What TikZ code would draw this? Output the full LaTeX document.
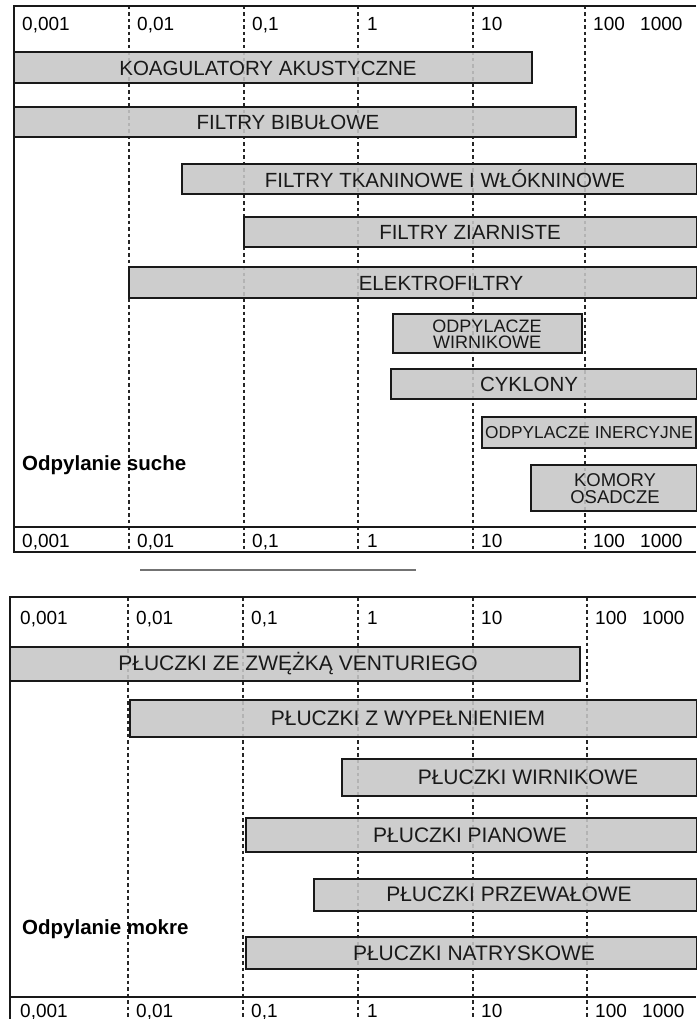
\documentclass[tikz,border=0pt]{standalone}
\usepackage{fontspec}
\setmainfont{Liberation Sans}
\begin{document}
\begin{tikzpicture}[x=1pt,y=-1pt,
  frame/.style={line width=1.5pt, draw=black!90},
  gridline/.style={dash pattern=on 3.5pt off 3pt, line width=1.2pt, draw=black!85},
  bar/.style={draw=black!90, line width=2.1pt, fill=black!22, fill opacity=0.88},
  axislbl/.style={font=\fontsize{19}{22}\selectfont, anchor=base west, inner sep=0pt},
  bartxt/.style={font=\fontsize{20.5}{22}\selectfont, inner sep=0pt, text=black!90},
  bartxtw/.style={font=\fontsize{21}{22}\selectfont, inner sep=0pt, text=black!90},
  smalltxt/.style={font=\fontsize{18}{16}\selectfont, inner sep=0pt, align=center, text=black!90},
  title/.style={font=\fontsize{20.5}{22}\selectfont\bfseries, anchor=base west, inner sep=0pt}
]
\useasboundingbox (0,0) rectangle (696,1019);
\fill[white] (0,0) rectangle (696,1019);

% ================= TOP PANEL =================
\foreach \x in {129,244,358,473,585} \draw[gridline] (\x,6) -- (\x,552);
\draw[frame] (696,6) -- (14,6) -- (14,552) -- (696,552);
\draw[frame] (14,527) -- (696,527);

\node[axislbl] (ta1) at (22,31) {0,001};
\node[axislbl] (ta2) at (137,31) {0,01};
\node[axislbl] (ta3) at (252,31) {0,1};
\node[axislbl] (ta4) at (367,31) {1};
\node[axislbl] (ta5) at (481,31) {10};
\node[axislbl] (ta6) at (593,31) {100};
\node[axislbl] (ta7) at (640,31) {1000};

\node[axislbl] (tb1) at (22,547) {0,001};
\node[axislbl] (tb2) at (137,547) {0,01};
\node[axislbl] (tb3) at (252,547) {0,1};
\node[axislbl] (tb4) at (367,547) {1};
\node[axislbl] (tb5) at (481,547) {10};
\node[axislbl] (tb6) at (593,547) {100};
\node[axislbl] (tb7) at (640,547) {1000};

\draw[bar] (14,52) rectangle (532,83);
\node[bartxt] (s1) at (268,68) {KOAGULATORY AKUSTYCZNE};
\draw[bar] (14,107) rectangle (576,137);
\node[bartxt] (s2) at (288,122) {FILTRY BIBUŁOWE};
\draw[bar] (182,164) rectangle (697,194);
\node[bartxt] (s3) at (445,179) {FILTRY TKANINOWE I WŁÓKNINOWE};
\draw[bar] (244,217) rectangle (697,247);
\node[bartxt] (s4) at (470,232) {FILTRY ZIARNISTE};
\draw[bar] (129,267) rectangle (697,298);
\node[bartxt] (s5) at (441,283) {ELEKTROFILTRY};
\draw[bar] (393,314) rectangle (582,353);
\node[smalltxt] (s6) at (487,334) {ODPYLACZE\\WIRNIKOWE};
\draw[bar] (391,369) rectangle (697,399);
\node[bartxt] (s7) at (529,384) {CYKLONY};
\draw[bar] (482,417) rectangle (696,448);
\node[bartxt, font=\fontsize{17.3}{18}\selectfont] (s8) at (589,433) {ODPYLACZE INERCYJNE};
\draw[bar] (531,465) rectangle (697,511);
\node[smalltxt, font=\fontsize{18.5}{17}\selectfont] (s9) at (615,489) {KOMORY\\OSADCZE};

\node[title] (st) at (22,470) {Odpylanie suche};

% separator line
\draw[line width=1.2pt, black!55] (140,570) -- (416,570);

% ================= BOTTOM PANEL =================
\foreach \x in {128,243,358,473,587} \draw[gridline] (\x,597) -- (\x,1019);
\draw[frame] (696,597) -- (10,597) -- (10,1019);
\draw[frame] (10,997) -- (696,997);

\node[axislbl] (ba1) at (20,624) {0,001};
\node[axislbl] (ba2) at (136,624) {0,01};
\node[axislbl] (ba3) at (251,624) {0,1};
\node[axislbl] (ba4) at (367,624) {1};
\node[axislbl] (ba5) at (481,624) {10};
\node[axislbl] (ba6) at (595,624) {100};
\node[axislbl] (ba7) at (642,624) {1000};

\node[axislbl] (bb1) at (20,1017) {0,001};
\node[axislbl] (bb2) at (136,1017) {0,01};
\node[axislbl] (bb3) at (251,1017) {0,1};
\node[axislbl] (bb4) at (367,1017) {1};
\node[axislbl] (bb5) at (481,1017) {10};
\node[axislbl] (bb6) at (595,1017) {100};
\node[axislbl] (bb7) at (642,1017) {1000};

\draw[bar] (10,647) rectangle (580,681);
\node[bartxtw] (m1) at (298,664) {PŁUCZKI ZE ZWĘŻKĄ VENTURIEGO};
\draw[bar] (130,700) rectangle (697,737);
\node[bartxtw] (m2) at (408,718) {PŁUCZKI Z WYPEŁNIENIEM};
\draw[bar] (342,759) rectangle (697,796);
\node[bartxtw] (m3) at (528,777) {PŁUCZKI WIRNIKOWE};
\draw[bar] (246,818) rectangle (697,852);
\node[bartxtw] (m4) at (470,835) {PŁUCZKI PIANOWE};
\draw[bar] (314,879) rectangle (697,911);
\node[bartxtw] (m5) at (509,894) {PŁUCZKI PRZEWAŁOWE};
\draw[bar] (246,937) rectangle (697,969);
\node[bartxtw] (m6) at (474,953) {PŁUCZKI NATRYSKOWE};

\node[title] (mt) at (22,934) {Odpylanie mokre};
\end{tikzpicture}
\end{document}
